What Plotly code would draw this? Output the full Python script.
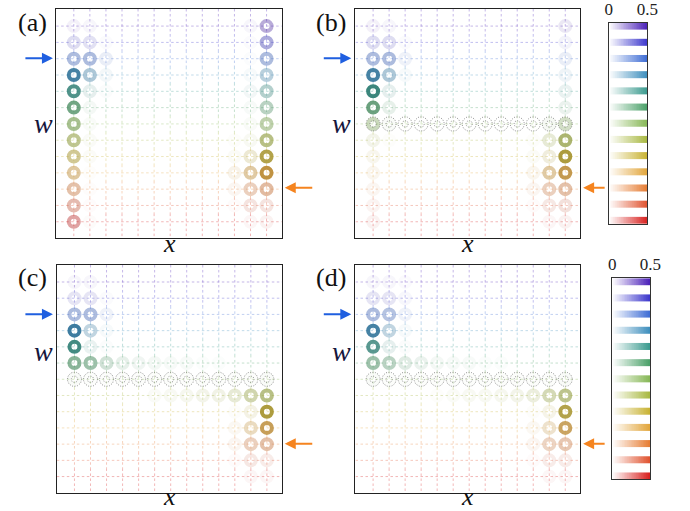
import numpy as np
import plotly.graph_objects as go

N = 13
ROWS = list(range(N))
COLS = list(range(N))

row_colors = ["#4a1fb8", "#3b36cc", "#3d6cd4", "#3d8ebd", "#3a9a8e", "#4aa068",
              "#86b755", "#a8b840", "#c8b232", "#e2a53a", "#e67c32", "#e0522e", "#d8201e"]

values_a = [
    [0.03, 0.02, 0, 0, 0, 0, 0, 0, 0, 0, 0, 0.02, 0.18],
    [0.08, 0.07, 0.01, 0, 0, 0, 0, 0, 0, 0, 0, 0.01, 0.20],
    [0.20, 0.20, 0.05, 0, 0, 0, 0, 0, 0, 0, 0, 0.01, 0.20],
    [0.45, 0.20, 0.03, 0, 0, 0, 0, 0, 0, 0, 0, 0.02, 0.17],
    [0.42, 0.06, 0.01, 0, 0, 0, 0, 0, 0, 0, 0, 0.03, 0.18],
    [0.36, 0.03, 0, 0, 0, 0, 0, 0, 0, 0, 0, 0.02, 0.18],
    [0.30, 0.02, 0, 0, 0, 0, 0, 0, 0, 0, 0, 0.02, 0.22],
    [0.27, 0.02, 0, 0, 0, 0, 0, 0, 0, 0, 0.01, 0.03, 0.30],
    [0.25, 0.02, 0, 0, 0, 0, 0, 0, 0, 0, 0.02, 0.10, 0.42],
    [0.23, 0.01, 0, 0, 0, 0, 0, 0, 0, 0, 0.05, 0.22, 0.45],
    [0.20, 0.01, 0, 0, 0, 0, 0, 0, 0, 0, 0.03, 0.15, 0.22],
    [0.18, 0.01, 0, 0, 0, 0, 0, 0, 0, 0, 0.01, 0.07, 0.07],
    [0.20, 0.01, 0, 0, 0, 0, 0, 0, 0, 0, 0, 0.02, 0.03],
]

values_b = [
    [0.03, 0.02, 0, 0, 0, 0, 0, 0, 0, 0, 0, 0, 0.05],
    [0.08, 0.08, 0.01, 0, 0, 0, 0, 0, 0, 0, 0, 0, 0.03],
    [0.20, 0.20, 0.04, 0, 0, 0, 0, 0, 0, 0, 0, 0, 0.05],
    [0.45, 0.20, 0.02, 0, 0, 0, 0, 0, 0, 0, 0, 0, 0.04],
    [0.47, 0.06, 0, 0, 0, 0, 0, 0, 0, 0, 0, 0, 0.05],
    [0.38, 0.06, 0, 0, 0, 0, 0, 0, 0, 0, 0, 0, 0.05],
    [0.18, 0.02, 0, 0, 0, 0, 0, 0, 0, 0, 0, 0.03, 0.15],
    [0.05, 0.01, 0, 0, 0, 0, 0, 0, 0, 0, 0.01, 0.10, 0.35],
    [0.04, 0, 0, 0, 0, 0, 0, 0, 0, 0, 0.02, 0.08, 0.45],
    [0.04, 0, 0, 0, 0, 0, 0, 0, 0, 0, 0.04, 0.22, 0.42],
    [0.03, 0, 0, 0, 0, 0, 0, 0, 0, 0, 0.03, 0.15, 0.20],
    [0.03, 0, 0, 0, 0, 0, 0, 0, 0, 0, 0.01, 0.06, 0.08],
    [0.03, 0, 0, 0, 0, 0, 0, 0, 0, 0, 0, 0.02, 0.03],
]

values_c = [
    [0.02, 0.02, 0, 0, 0, 0, 0, 0, 0, 0, 0, 0, 0],
    [0.06, 0.06, 0.01, 0, 0, 0, 0, 0, 0, 0, 0, 0, 0],
    [0.20, 0.20, 0.04, 0, 0, 0, 0, 0, 0, 0, 0, 0, 0],
    [0.47, 0.15, 0.02, 0, 0, 0, 0, 0, 0, 0, 0, 0, 0],
    [0.45, 0.05, 0.01, 0, 0, 0, 0, 0, 0, 0, 0, 0, 0],
    [0.30, 0.25, 0.12, 0.06, 0.04, 0.03, 0.02, 0.02, 0.01, 0.01, 0, 0, 0],
    [0.02, 0.01, 0.01, 0.01, 0.01, 0.01, 0.01, 0.01, 0.01, 0.01, 0.01, 0.01, 0.02],
    [0, 0, 0, 0, 0, 0.02, 0.03, 0.04, 0.05, 0.06, 0.10, 0.20, 0.30],
    [0, 0, 0, 0, 0, 0, 0, 0, 0, 0, 0.01, 0.06, 0.45],
    [0, 0, 0, 0, 0, 0, 0, 0, 0, 0, 0.03, 0.15, 0.40],
    [0, 0, 0, 0, 0, 0, 0, 0, 0, 0, 0.03, 0.15, 0.20],
    [0, 0, 0, 0, 0, 0, 0, 0, 0, 0, 0.01, 0.06, 0.05],
    [0, 0, 0, 0, 0, 0, 0, 0, 0, 0, 0, 0.02, 0.02],
]

values_d = [
    [0.02, 0.02, 0.01, 0, 0, 0, 0, 0, 0, 0, 0, 0, 0],
    [0.06, 0.06, 0.02, 0, 0, 0, 0, 0, 0, 0, 0, 0, 0],
    [0.20, 0.18, 0.04, 0, 0, 0, 0, 0, 0, 0, 0, 0, 0],
    [0.45, 0.15, 0.02, 0, 0, 0, 0, 0, 0, 0, 0, 0, 0],
    [0.40, 0.06, 0.01, 0, 0, 0, 0, 0, 0, 0, 0, 0, 0],
    [0.25, 0.18, 0.08, 0.05, 0.03, 0.02, 0.02, 0.01, 0.01, 0, 0, 0, 0],
    [0.02, 0.01, 0.01, 0.01, 0.01, 0.01, 0.01, 0.01, 0.01, 0.01, 0.01, 0.01, 0.02],
    [0, 0, 0, 0, 0.01, 0.02, 0.03, 0.03, 0.04, 0.05, 0.08, 0.18, 0.28],
    [0, 0, 0, 0, 0, 0, 0, 0, 0, 0, 0.01, 0.05, 0.42],
    [0, 0, 0, 0, 0, 0, 0, 0, 0, 0, 0.03, 0.12, 0.38],
    [0, 0, 0, 0, 0, 0, 0, 0, 0, 0, 0.03, 0.14, 0.18],
    [0, 0, 0, 0, 0, 0, 0, 0, 0, 0, 0.01, 0.05, 0.05],
    [0, 0, 0, 0, 0, 0, 0, 0, 0, 0, 0, 0.02, 0.02],
]

panel_labels = ["(a)", "(b)", "(c)", "(d)"]
defect_rows = [None, 6, 6, 6]
VMAX = 0.5
cbar_ticks = [0, 0.5]
cbar_ticktext = ["0", "0.5"]

W, H = 690, 511


def px_x(p):
    return p / W


def px_y(p):
    return 1 - p / H


def rgba(h, a, k=1.0):
    h = h.lstrip("#")
    r, g, b = int(h[0:2], 16), int(h[2:4], 16), int(h[4:6], 16)
    r, g, b = int(r * k), int(g * k), int(b * k)
    return f"rgba({r},{g},{b},{max(0.0, min(1.0, a)):.3f})"


XR = [-1.1, 12.95]
YR = [13.0, -1.05]

panel_dom = [
    ([53.3, 284.0], [7.0, 237.0]),
    ([359.3, 589.3], [7.0, 237.0]),
    ([54.0, 284.3], [264.0, 492.7]),
    ([359.3, 589.3], [264.0, 492.7]),
]
cbar_dom = [([618.3, 657.7], [20.7, 222.7]), ([621.7, 660.7], [277.3, 479.3])]

fig = go.Figure()
all_values = [values_a, values_b, values_c, values_d]
layout_axes = {}
serif = "Liberation Serif"

for i, vals in enumerate(all_values):
    xa = f"x{i+1}"
    ya = f"y{i+1}"
    # grid lines (per-row colour)
    for r in ROWS:
        xs = [XR[0], XR[1], None]
        ys = [r, r, None]
        ylo = YR[1] if r == 0 else r - 0.5
        yhi = YR[0] if r == N - 1 else r + 0.5
        for c in COLS:
            xs += [c, c, None]
            ys += [ylo, yhi, None]
        fig.add_trace(go.Scatter(x=xs, y=ys, mode="lines", xaxis=xa, yaxis=ya,
                                 line=dict(color=rgba(row_colors[r], 0.32), width=1, dash="2.5px,2.5px"),
                                 hoverinfo="skip", showlegend=False))
    # rings
    mx, my, mc = [], [], []
    for r in ROWS:
        for c in COLS:
            v = vals[r][c]
            if v <= 0:
                continue
            mx.append(c)
            my.append(r)
            mc.append(rgba(row_colors[r], v / VMAX, 0.82))
    fig.add_trace(go.Scatter(x=mx, y=my, mode="markers", xaxis=xa, yaxis=ya,
                             marker=dict(symbol="circle-open", size=10, color=mc, line=dict(width=4)),
                             hoverinfo="skip", showlegend=False))
    # defect row: dotted gray double circles
    dr = defect_rows[i]
    if dr is not None:
        th = np.linspace(0, 2 * np.pi, 41)
        cx, cy = [], []
        for c in COLS:
            for R in (0.44, 0.2):
                cx += list(c + R * np.cos(th)) + [None]
                cy += list(dr + R * np.sin(th)) + [None]
        fig.add_trace(go.Scatter(x=cx, y=cy, mode="lines", xaxis=xa, yaxis=ya,
                                 line=dict(color="rgba(120,120,120,0.8)", width=1, dash="1px,1.5px"),
                                 hoverinfo="skip", showlegend=False))
    xd, yd = panel_dom[i]
    sfx = "" if i == 0 else str(i + 1)
    layout_axes[f"xaxis{sfx}"] = dict(domain=[px_x(xd[0]), px_x(xd[1])], range=XR, anchor=ya,
                                      showgrid=False, zeroline=False, showticklabels=False, ticks="",
                                      showline=True, mirror=True, linecolor="#222", linewidth=1.3)
    layout_axes[f"yaxis{sfx}"] = dict(domain=[px_y(yd[1]), px_y(yd[0])], range=YR, anchor=xa,
                                      showgrid=False, zeroline=False, showticklabels=False, ticks="",
                                      showline=True, mirror=True, linecolor="#222", linewidth=1.3)

# colour bars
grad = np.linspace(0, VMAX, 60)
edges = np.linspace(0, VMAX, 61)
for k, (xd, yd) in enumerate(cbar_dom):
    n = 5 + k
    xa, ya = f"x{n}", f"y{n}"
    for r in ROWS:
        fig.add_trace(go.Heatmap(z=[list(grad)], x=list(edges), y=[r - 0.215, r + 0.215],
                                 colorscale=[[0, "rgb(255,255,255)"], [1, row_colors[r]]],
                                 zmin=0, zmax=VMAX, showscale=False, xaxis=xa, yaxis=ya,
                                 hoverinfo="skip"))
    layout_axes[f"xaxis{n}"] = dict(domain=[px_x(xd[0]), px_x(xd[1])], range=[0, VMAX], anchor=ya,
                                    side="top", tickvals=cbar_ticks, ticktext=cbar_ticktext, ticks="",
                                    tickfont=dict(family=serif, size=17, color="#222"),
                                    showgrid=False, zeroline=False,
                                    showline=True, mirror=True, linecolor="#333", linewidth=1.3)
    layout_axes[f"yaxis{n}"] = dict(domain=[px_y(yd[1]), px_y(yd[0])], range=[N - 1 + 0.215, -0.215],
                                    anchor=xa, showgrid=False, zeroline=False, showticklabels=False,
                                    ticks="", showline=True, mirror=True, linecolor="#333", linewidth=1.3)

ann = []
label_pos = [(29, 21), (334, 21), (29, 277), (334, 277)]
w_pos = [(40, 122), (345, 122), (40, 351), (345, 351)]
x_pos = [(169, 242), (474, 242), (169, 496), (474, 496)]
blue_arrows = [(21, 50, 56.5), (326, 355, 56.5), (21, 50, 313.5), (326, 355, 313.5)]
orange_arrows = [(316, 287, 186.5), (615, 592, 186.5), (316, 287, 443.5), (615, 592, 443.5)]
for i in range(4):
    ann.append(dict(x=px_x(label_pos[i][0]), y=px_y(label_pos[i][1]), xref="paper", yref="paper",
                    xanchor="center", yanchor="middle",
                    text=panel_labels[i], showarrow=False, font=dict(family=serif, size=26, color="#111")))
    ann.append(dict(x=px_x(w_pos[i][0]), y=px_y(w_pos[i][1]), xref="paper", yref="paper",
                    xanchor="center", yanchor="middle",
                    text="<i>w</i>", showarrow=False, font=dict(family=serif, size=28, color="#16163c")))
    ann.append(dict(x=px_x(x_pos[i][0]), y=px_y(x_pos[i][1]), xref="paper", yref="paper",
                    xanchor="center", yanchor="middle",
                    text="<i>x</i>", showarrow=False, font=dict(family=serif, size=26, color="#111")))
    t, h, yy = blue_arrows[i]
    ann.append(dict(x=px_x(h), y=px_y(yy), xref="paper", yref="paper", ax=t - h, ay=0, text="",
                    showarrow=True, arrowhead=2, arrowsize=1.1, arrowwidth=2, arrowcolor="#1f5fe0"))
    t, h, yy = orange_arrows[i]
    ann.append(dict(x=px_x(h), y=px_y(yy), xref="paper", yref="paper", ax=t - h, ay=0, text="",
                    showarrow=True, arrowhead=2, arrowsize=1.1, arrowwidth=2, arrowcolor="#f5841f"))

fig.update_layout(width=W, height=H, margin=dict(l=0, r=0, t=0, b=0),
                  paper_bgcolor="white", plot_bgcolor="white", showlegend=False,
                  annotations=ann, **layout_axes)

fig.write_html("out.html")
